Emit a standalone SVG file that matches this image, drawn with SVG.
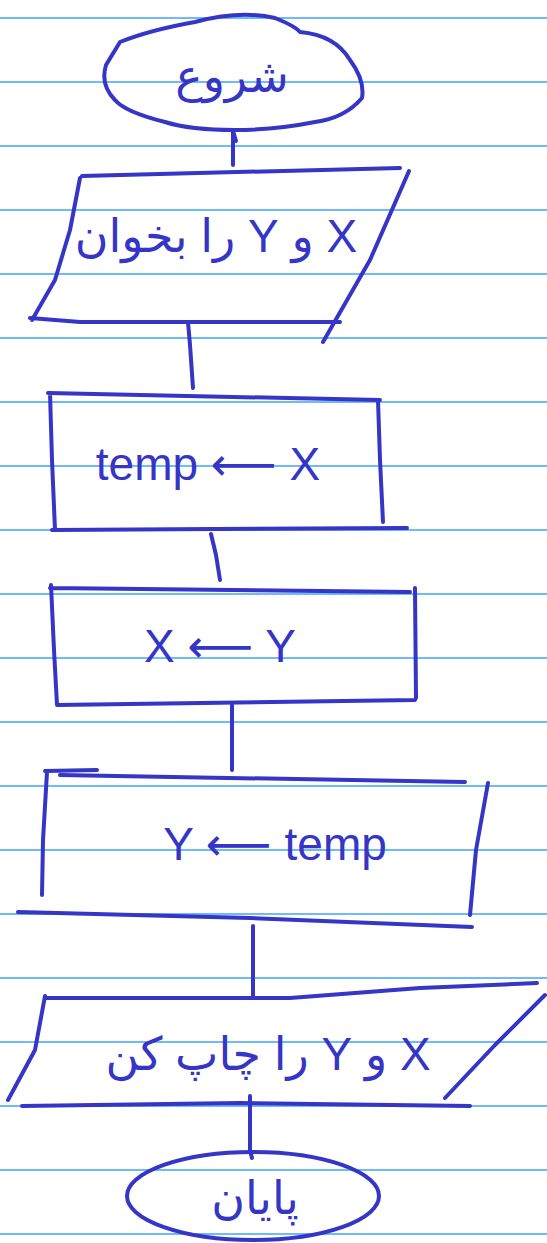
<svg xmlns="http://www.w3.org/2000/svg" width="547" height="1243" viewBox="0 0 547 1243">
<style>
.rule{stroke:#3fa2ff;stroke-width:1.5}
.pen{fill:none;stroke:#3535c6;stroke-width:4;stroke-linecap:round;stroke-linejoin:round}
.t{fill:#3535c6;font-family:"Liberation Sans","DejaVu Sans",sans-serif;font-size:46px;text-anchor:middle}
.fa{direction:rtl;unicode-bidi:embed}
</style>
<rect width="547" height="1243" fill="#ffffff"/>
<g id="paper">
<line class="rule" x1="0" y1="18" x2="547" y2="18"/>
<line class="rule" x1="0" y1="82" x2="547" y2="82"/>
<line class="rule" x1="0" y1="146" x2="547" y2="146"/>
<line class="rule" x1="0" y1="210" x2="547" y2="210"/>
<line class="rule" x1="0" y1="274" x2="547" y2="274"/>
<line class="rule" x1="0" y1="338" x2="547" y2="338"/>
<line class="rule" x1="0" y1="402" x2="547" y2="402"/>
<line class="rule" x1="0" y1="466" x2="547" y2="466"/>
<line class="rule" x1="0" y1="530" x2="547" y2="530"/>
<line class="rule" x1="0" y1="594" x2="547" y2="594"/>
<line class="rule" x1="0" y1="658" x2="547" y2="658"/>
<line class="rule" x1="0" y1="722" x2="547" y2="722"/>
<line class="rule" x1="0" y1="786" x2="547" y2="786"/>
<line class="rule" x1="0" y1="850" x2="547" y2="850"/>
<line class="rule" x1="0" y1="914" x2="547" y2="914"/>
<line class="rule" x1="0" y1="978" x2="547" y2="978"/>
<line class="rule" x1="0" y1="1042" x2="547" y2="1042"/>
<line class="rule" x1="0" y1="1106" x2="547" y2="1106"/>
<line class="rule" x1="0" y1="1170" x2="547" y2="1170"/>
<line class="rule" x1="0" y1="1234" x2="547" y2="1234"/>
</g>
<g id="connectors">
<path class="pen" d="M233,131 L233,165 M233,131 L236,141"/>
<path class="pen" d="M188,322 L190,345 L193,388"/>
<path class="pen" d="M211,534 L216,555 L220,580"/>
<path class="pen" d="M232,705 L232,770"/>
<path class="pen" d="M253,926 L253,998"/>
<path class="pen" d="M250,1096 L250,1150 L252,1158"/>
</g>
<g id="start">
<path class="pen" d="M120,42 Q150,30 195,22 Q240,10 275,18 Q295,26 300,32 Q335,35 350,60 Q365,80 362,98 Q345,118 315,122 Q275,130 235,130 Q190,130 165,122 Q125,112 115,100 Q100,85 106,65 Z"/>
<text class="t fa" x="232" y="92" font-size="52">شروع</text>
</g>
<g id="read">
<path class="pen" d="M82,176 L400,168 M409,171 L370,260 L323,342 M30,318 L80,322 L340,322 M80,178 L70,230 L55,280 L32,320"/>
<text class="t fa" x="216" y="252" font-size="44">X و Y را بخوان</text>
</g>
<g id="assign1">
<path class="pen" d="M48,393 L380,400 M50,393 L52,460 L55,530 M378,400 L380,460 L383,522 M52,530 L407,528"/>
<text class="t" x="208" y="480" font-size="48">temp ⟵ X</text>
</g>
<g id="assign2">
<path class="pen" d="M50,588 L410,592 M51,585 L54,650 L57,705 M415,588 L416,698 M57,705 L415,700"/>
<text class="t" x="220" y="662" font-size="48">X ⟵ Y</text>
</g>
<g id="assign3">
<path class="pen" d="M45,771 L97,770 M60,775 L465,782 M47,772 L43,840 L42,895 M488,783 L476,850 L470,915 M18,912 L250,918 L472,927"/>
<text class="t" x="275" y="860" font-size="48">Y ⟵ temp</text>
</g>
<g id="print">
<path class="pen" d="M47,998 L290,998 L420,988 L537,983 M545,995 L495,1045 L445,1098 M45,996 L35,1050 L8,1100 M22,1106 L240,1103 L470,1106"/>
<text class="t fa" x="268" y="1070" font-size="46">X و Y را چاپ کن</text>
</g>
<g id="end">
<ellipse class="pen" cx="253" cy="1196" rx="126" ry="44"/>
<text class="t fa" x="255" y="1214" font-size="46">پایان</text>
</g>
</svg>
